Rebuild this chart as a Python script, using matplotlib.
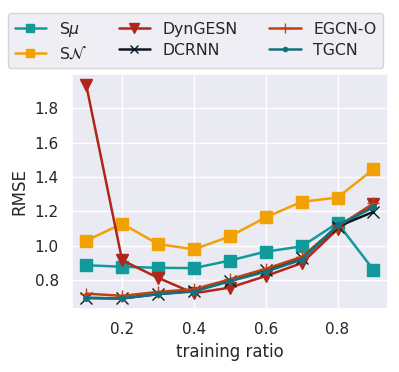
import matplotlib
matplotlib.use("Agg")
import matplotlib.pyplot as plt
import seaborn as sns

sns.set_theme(style="darkgrid")

ratios = [0.1, 0.2, 0.3, 0.4, 0.5, 0.6, 0.7, 0.8, 0.9]
s_mu = [0.888, 0.879, 0.873, 0.871, 0.915, 0.967, 0.997, 1.133, 0.861]
s_n = [1.03, 1.129, 1.011, 0.98, 1.055, 1.166, 1.256, 1.281, 1.445]
dyngesn = [1.936, 0.917, 0.815, 0.725, 0.758, 0.825, 0.90, 1.097, 1.243]
dcrnn = [0.698, 0.695, 0.72, 0.739, 0.798, 0.859, 0.928, 1.112, 1.198]
egcn_o = [0.723, 0.71, 0.733, 0.748, 0.806, 0.867, 0.936, 1.112, 1.247]
tgcn = [0.698, 0.695, 0.72, 0.735, 0.795, 0.85, 0.92, 1.12, 1.224]

fig = plt.figure(figsize=(3.99, 3.72), dpi=100)
ax = fig.add_axes([0.18, 0.169, 0.792, 0.632])

lw = 1.8
ax.plot(ratios, s_mu, color="#12999a", marker="s", markersize=8, lw=lw, label=r"S$\mu$")
ax.plot(ratios, s_n, color="#f2a104", marker="s", markersize=8, lw=lw, label=r"S$\mathcal{N}$")
ax.plot(ratios, dyngesn, color="#b0261a", marker="v", markersize=9, lw=lw, label="DynGESN")
ax.plot(ratios, dcrnn, color="#0b1a22", marker="x", markersize=8, lw=lw, label="DCRNN")
ax.plot(ratios, egcn_o, color="#c2410f", marker="+", markersize=9, lw=lw, label="EGCN-O")
ax.plot(ratios, tgcn, color="#14707f", marker=".", markersize=8, lw=lw, label="TGCN")

ax.set_xlabel("training ratio")
ax.set_ylabel("RMSE")
ax.set_xticks([0.2, 0.4, 0.6, 0.8])
ax.set_yticks([0.8, 1.0, 1.2, 1.4, 1.6, 1.8])

fig.legend(loc="upper center", bbox_to_anchor=(0.49, 0.985), ncol=3, fontsize=11.3,
           frameon=True, handlelength=2.0, handletextpad=0.8, columnspacing=2.0,
           labelspacing=0.4, markerscale=0.75)

fig.savefig("out.png", dpi=100)
